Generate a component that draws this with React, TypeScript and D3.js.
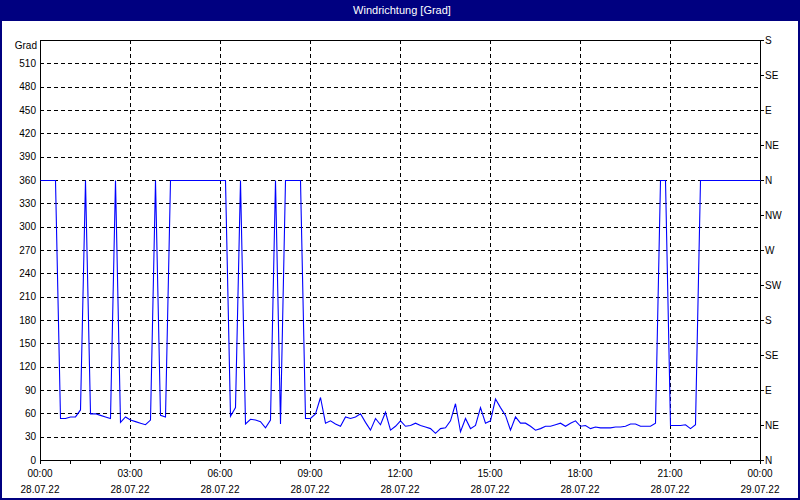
import React from "react";
import * as d3 from "d3";

const title = "Windrichtung [Grad]";
const yUnit = "Grad";
const yTicks = [0, 30, 60, 90, 120, 150, 180, 210, 240, 270, 300, 330, 360, 390, 420, 450, 480, 510];
const compassTicks = [0, 45, 90, 135, 180, 225, 270, 315, 360, 405, 450, 495, 540];
const compassLabels = ["N", "NE", "E", "SE", "S", "SW", "W", "NW", "N", "NE", "E", "SE", "S"];
const hourLabels = ["00:00", "03:00", "06:00", "09:00", "12:00", "15:00", "18:00", "21:00", "00:00"];
const dateLabels = ["28.07.22", "28.07.22", "28.07.22", "28.07.22", "28.07.22", "28.07.22", "28.07.22", "28.07.22", "29.07.22"];
const stepMinutes = 10;
// wind direction every 10 minutes from 28.07.22 00:00 to 29.07.22 00:00
const direction = [
  360, 360, 360, 360, 54, 54, 56, 56, 65, 360,
  60, 60, 58, 56, 54, 360, 49, 56, 52, 50,
  48, 46, 52, 360, 58, 56, 360, 360, 360, 360,
  360, 360, 360, 360, 360, 360, 360, 360, 57, 68,
  360, 47, 53, 52, 50, 42, 52, 360, 47, 360,
  360, 360, 360, 54, 54, 60, 81, 48, 51, 47,
  44, 56, 54, 56, 60, 49, 39, 54, 46, 62,
  39, 44, 51, 44, 45, 48, 45, 43, 41, 35,
  41, 42, 51, 73, 37, 54, 41, 45, 68, 48,
  51, 79, 68, 58, 39, 56, 48, 48, 44, 39,
  41, 44, 44, 46, 48, 44, 48, 51, 44, 45,
  41, 43, 42, 42, 42, 43, 43, 44, 47, 47,
  44, 44, 44, 48, 360, 360, 45, 45, 45, 46,
  41, 46, 360, 360, 360, 360, 360, 360, 360, 360,
  360, 360, 360, 360, 360,
];

const W = 800;
const H = 500;
const M = { left: 40, right: 40, top: 40, bottom: 40 };
const FONT = "'Liberation Sans', Arial, sans-serif";

export default function App() {
  const x = d3.scaleLinear().domain([0, 1440]).range([M.left, W - M.right]);
  const y = d3.scaleLinear().domain([0, 540]).range([H - M.bottom, M.top]);
  const pts: [number, number][] = direction.map((v, i) => [i * stepMinutes, v]);
  const line = d3
    .line<[number, number]>()
    .x((d) => x(d[0]) + 0.5)
    .y((d) => y(d[1]) + 0.5);
  const hourTicks = d3.range(0, 1441, 60);
  const majorTicks = d3.range(0, 1441, 180);
  const x0 = M.left;
  const x1 = W - M.right;
  const y0 = H - M.bottom;
  const y1 = M.top;

  return (
    <svg
      width={W}
      height={H}
      style={{ position: "absolute", left: 0, top: 0, display: "block" }}
      fontFamily={FONT}
    >
      <rect x={0} y={0} width={W} height={H} fill="#ffffff" />
      <rect x={0} y={0} width={W} height={21} fill="#000080" />
      <rect x={0.5} y={0.5} width={W - 1} height={H - 1} fill="none" stroke="#000080" strokeWidth={1} />
      <rect x={1.5} y={1.5} width={W - 3} height={H - 3} fill="none" stroke="#000080" strokeWidth={1} />
      <text x={W / 2 + 2} y={14} textAnchor="middle" fill="#ffffff" fontSize={11}>
        {title}
      </text>

      {/* grid */}
      <g stroke="#000" strokeWidth={1} strokeDasharray="4,3" shapeRendering="crispEdges">
        {yTicks
          .filter((t) => t > 0)
          .map((t) => (
            <line key={"gy" + t} x1={x0} x2={x1} y1={Math.round(y(t)) + 0.5} y2={Math.round(y(t)) + 0.5} />
          ))}
        {majorTicks
          .filter((t) => t > 0 && t < 1440)
          .map((t) => (
            <line key={"gx" + t} x1={Math.round(x(t)) + 0.5} x2={Math.round(x(t)) + 0.5} y1={y1} y2={y0} />
          ))}
      </g>

      {/* frame */}
      <g stroke="#000" strokeWidth={1} shapeRendering="crispEdges" fill="none">
        <line x1={x0 + 0.5} x2={x0 + 0.5} y1={y1} y2={y0 + 1} />
        <line x1={x1 + 0.5} x2={x1 + 0.5} y1={y1} y2={y0 + 1} />
        <line x1={x0} x2={x1 + 1} y1={y1 + 0.5} y2={y1 + 0.5} />
        <line x1={x0} x2={x1 + 1} y1={y0 + 0.5} y2={y0 + 0.5} />
        {hourTicks.map((t) => (
          <line key={"tx" + t} x1={Math.round(x(t)) + 0.5} x2={Math.round(x(t)) + 0.5} y1={y0} y2={y0 + 4} />
        ))}
        {compassTicks.map((t) => (
          <line key={"tr" + t} x1={x1} x2={x1 + 4} y1={Math.round(y(t)) + 0.5} y2={Math.round(y(t)) + 0.5} />
        ))}
      </g>

      {/* data */}
      <path d={line(pts) || ""} fill="none" stroke="#0000ff" strokeWidth={1.1} />

      {/* left labels */}
      <g fontSize={10} fill="#000" textAnchor="end">
        <text x={37} y={y(540) + 5 + 3.5}>
          {yUnit}
        </text>
        {yTicks.map((t) => (
          <text key={"ly" + t} x={36} y={y(t) + 3.5}>
            {t}
          </text>
        ))}
      </g>

      {/* right labels */}
      <g fontSize={10} fill="#000" textAnchor="start">
        {compassTicks.map((t, i) => (
          <text key={"ry" + t} x={765} y={y(t) + 3.5}>
            {compassLabels[i]}
          </text>
        ))}
      </g>

      {/* bottom labels */}
      <g fontSize={10} fill="#000" textAnchor="middle">
        {majorTicks.map((t, i) => (
          <g key={"bx" + t}>
            <text x={x(t)} y={477}>
              {hourLabels[i]}
            </text>
            <text x={x(t)} y={493}>
              {dateLabels[i]}
            </text>
          </g>
        ))}
      </g>
    </svg>
  );
}
